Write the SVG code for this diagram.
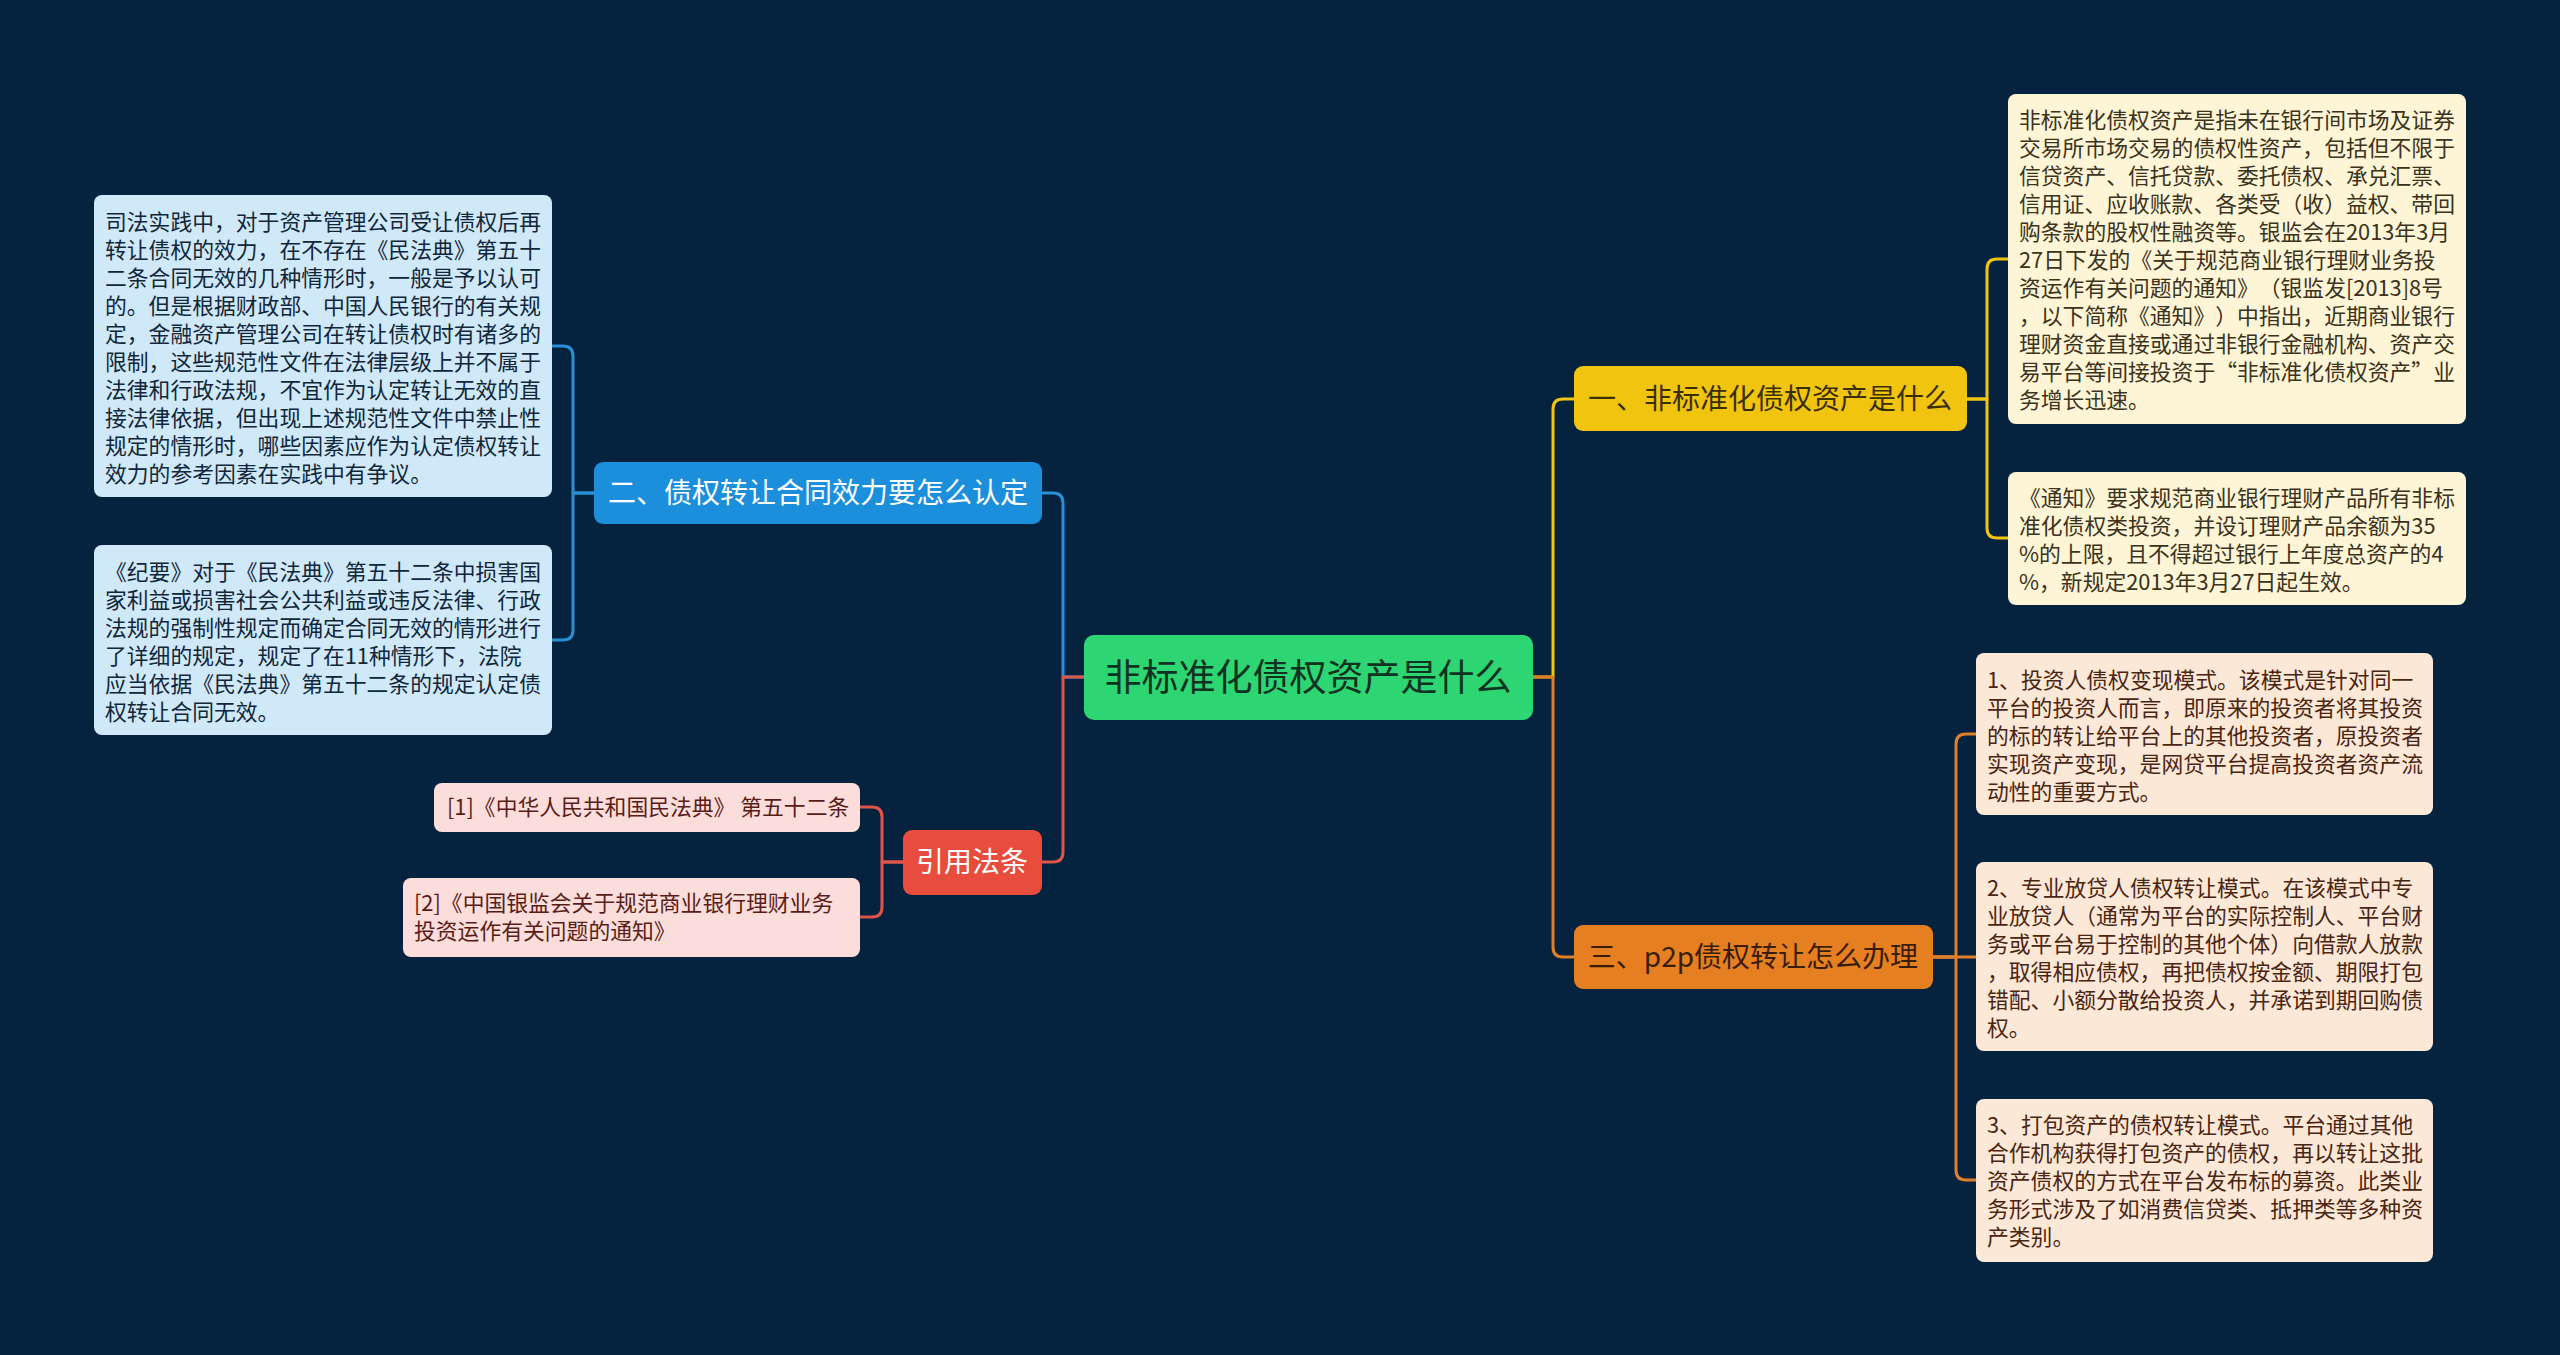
<svg xmlns="http://www.w3.org/2000/svg" width="2560" height="1355" viewBox="0 0 2560 1355">
<style>
text{font-family:"Noto Sans CJK SC","Noto Sans",sans-serif;text-spacing-trim:space-all;}
.leaf{font-size:21.8px;}
.br{font-size:28px;text-anchor:middle;}
.ln{fill:none;stroke-width:3;stroke-linejoin:round;}
.ly{stroke:#f1c40f;}.lo{stroke:#e07f2a;}.lb{stroke:#2a8fd6;}.lr{stroke:#e0554a;}
.ty{fill:#3b3220;}.to{fill:#4a2512;}.tb{fill:#10263a;}.tr{fill:#5a1c18;}
</style>
<rect width="2560" height="1355" fill="#05223f"/>
<g id="connectors">
<path class="ln ly" d="M1533,677 H1553 V409 Q1553,399 1563,399 H1574"/>
<path class="ln lo" d="M1533,677 H1553 V947 Q1553,957 1563,957 H1574"/>
<path class="ln lb" d="M1084,677 H1063 V503 Q1063,493 1053,493 H1042"/>
<path class="ln lr" d="M1084,677 H1063 V852 Q1063,862 1053,862 H1042"/>
<path class="ln ly" d="M1966,399 H1987 V269 Q1987,259 1997,259 H2008"/>
<path class="ln ly" d="M1966,399 H1987 V528 Q1987,538 1997,538 H2008"/>
<path class="ln lo" d="M1933,957 H1956 V744 Q1956,734 1966,734 H1976"/>
<path class="ln lo" d="M1933,957 H1976"/>
<path class="ln lo" d="M1933,957 H1956 V1170 Q1956,1180 1966,1180 H1976"/>
<path class="ln lb" d="M594,493 H573 V356 Q573,346 563,346 H552"/>
<path class="ln lb" d="M594,493 H573 V630 Q573,640 563,640 H552"/>
<path class="ln lr" d="M903,862 H882 V817 Q882,807 872,807 H860"/>
<path class="ln lr" d="M903,862 H882 V907 Q882,917 872,917 H860"/>
</g>
<g id="root">
<rect x="1084" y="635" width="449" height="85" rx="10" fill="#2ed573"/>
<text x="1308" y="691" font-size="37" text-anchor="middle" fill="#0f3320">非标准化债权资产是什么</text>
</g>
<g id="branch1">
<rect x="1574" y="366" width="393" height="65" rx="9" fill="#f1c40f"/>
<text class="br" x="1770" y="409" fill="#3a2e05">一、非标准化债权资产是什么</text>
</g>
<g id="branch3">
<rect x="1574" y="925" width="359" height="64" rx="9" fill="#e67e22"/>
<text class="br" x="1753" y="967" fill="#3a1d06">三、p2p债权转让怎么办理</text>
</g>
<g id="branch2">
<rect x="594" y="462" width="448" height="62" rx="9" fill="#1b8fdc"/>
<text class="br" x="818" y="503" fill="#ffffff">二、债权转让合同效力要怎么认定</text>
</g>
<g id="branch4">
<rect x="903" y="830" width="139" height="65" rx="9" fill="#e74c3c"/>
<text class="br" x="972" y="872" fill="#ffffff">引用法条</text>
</g>
<g id="leaf-y1">
<rect x="2008" y="94" width="458" height="330" rx="8" fill="#fdf5d5"/>
<text class="leaf ty" x="2019" y="128">
<tspan x="2019" y="128">非标准化债权资产是指未在银行间市场及证券</tspan>
<tspan x="2019" y="156">交易所市场交易的债权性资产，包括但不限于</tspan>
<tspan x="2019" y="184">信贷资产、信托贷款、委托债权、承兑汇票、</tspan>
<tspan x="2019" y="212">信用证、应收账款、各类受（收）益权、带回</tspan>
<tspan x="2019" y="240">购条款的股权性融资等。银监会在2013年3月</tspan>
<tspan x="2019" y="268">27日下发的《关于规范商业银行理财业务投</tspan>
<tspan x="2019" y="296">资运作有关问题的通知》（银监发[2013]8号</tspan>
<tspan x="2019" y="324">，以下简称《通知》）中指出，近期商业银行</tspan>
<tspan x="2019" y="352">理财资金直接或通过非银行金融机构、资产交</tspan>
<tspan x="2019" y="380">易平台等间接投资于“非标准化债权资产”业</tspan>
<tspan x="2019" y="408">务增长迅速。</tspan>
</text>
</g>
<g id="leaf-y2">
<rect x="2008" y="472" width="458" height="133" rx="8" fill="#fdf5d5"/>
<text class="leaf ty">
<tspan x="2019" y="506">《通知》要求规范商业银行理财产品所有非标</tspan>
<tspan x="2019" y="534">准化债权类投资，并设订理财产品余额为35</tspan>
<tspan x="2019" y="562">%的上限，且不得超过银行上年度总资产的4</tspan>
<tspan x="2019" y="590">%，新规定2013年3月27日起生效。</tspan>
</text>
</g>
<g id="leaf-o1">
<rect x="1976" y="653" width="457" height="162" rx="8" fill="#fce8d7"/>
<text class="leaf to">
<tspan x="1987" y="688">1、投资人债权变现模式。该模式是针对同一</tspan>
<tspan x="1987" y="716">平台的投资人而言，即原来的投资者将其投资</tspan>
<tspan x="1987" y="744">的标的转让给平台上的其他投资者，原投资者</tspan>
<tspan x="1987" y="772">实现资产变现，是网贷平台提高投资者资产流</tspan>
<tspan x="1987" y="800">动性的重要方式。</tspan>
</text>
</g>
<g id="leaf-o2">
<rect x="1976" y="862" width="457" height="189" rx="8" fill="#fce8d7"/>
<text class="leaf to">
<tspan x="1987" y="896">2、专业放贷人债权转让模式。在该模式中专</tspan>
<tspan x="1987" y="924">业放贷人（通常为平台的实际控制人、平台财</tspan>
<tspan x="1987" y="952">务或平台易于控制的其他个体）向借款人放款</tspan>
<tspan x="1987" y="980">，取得相应债权，再把债权按金额、期限打包</tspan>
<tspan x="1987" y="1008">错配、小额分散给投资人，并承诺到期回购债</tspan>
<tspan x="1987" y="1036">权。</tspan>
</text>
</g>
<g id="leaf-o3">
<rect x="1976" y="1099" width="457" height="163" rx="8" fill="#fce8d7"/>
<text class="leaf to">
<tspan x="1987" y="1133">3、打包资产的债权转让模式。平台通过其他</tspan>
<tspan x="1987" y="1161">合作机构获得打包资产的债权，再以转让这批</tspan>
<tspan x="1987" y="1189">资产债权的方式在平台发布标的募资。此类业</tspan>
<tspan x="1987" y="1217">务形式涉及了如消费信贷类、抵押类等多种资</tspan>
<tspan x="1987" y="1245">产类别。</tspan>
</text>
</g>
<g id="leaf-b1">
<rect x="94" y="195" width="458" height="302" rx="8" fill="#d0e9f8"/>
<text class="leaf tb">
<tspan x="105" y="230">司法实践中，对于资产管理公司受让债权后再</tspan>
<tspan x="105" y="258">转让债权的效力，在不存在《民法典》第五十</tspan>
<tspan x="105" y="286">二条合同无效的几种情形时，一般是予以认可</tspan>
<tspan x="105" y="314">的。但是根据财政部、中国人民银行的有关规</tspan>
<tspan x="105" y="342">定，金融资产管理公司在转让债权时有诸多的</tspan>
<tspan x="105" y="370">限制，这些规范性文件在法律层级上并不属于</tspan>
<tspan x="105" y="398">法律和行政法规，不宜作为认定转让无效的直</tspan>
<tspan x="105" y="426">接法律依据，但出现上述规范性文件中禁止性</tspan>
<tspan x="105" y="454">规定的情形时，哪些因素应作为认定债权转让</tspan>
<tspan x="105" y="482">效力的参考因素在实践中有争议。</tspan>
</text>
</g>
<g id="leaf-b2">
<rect x="94" y="545" width="458" height="190" rx="8" fill="#d0e9f8"/>
<text class="leaf tb">
<tspan x="105" y="580">《纪要》对于《民法典》第五十二条中损害国</tspan>
<tspan x="105" y="608">家利益或损害社会公共利益或违反法律、行政</tspan>
<tspan x="105" y="636">法规的强制性规定而确定合同无效的情形进行</tspan>
<tspan x="105" y="664">了详细的规定，规定了在11种情形下，法院</tspan>
<tspan x="105" y="692">应当依据《民法典》第五十二条的规定认定债</tspan>
<tspan x="105" y="720">权转让合同无效。</tspan>
</text>
</g>
<g id="leaf-r1">
<rect x="434" y="783" width="426" height="49" rx="8" fill="#fbdedb"/>
<text class="leaf tr" x="447" y="815">[1]《中华人民共和国民法典》 第五十二条</text>
</g>
<g id="leaf-r2">
<rect x="403" y="878" width="457" height="79" rx="8" fill="#fbdedb"/>
<text class="leaf tr">
<tspan x="414" y="911">[2]《中国银监会关于规范商业银行理财业务</tspan>
<tspan x="414" y="939">投资运作有关问题的通知》</tspan>
</text>
</g>
</svg>
